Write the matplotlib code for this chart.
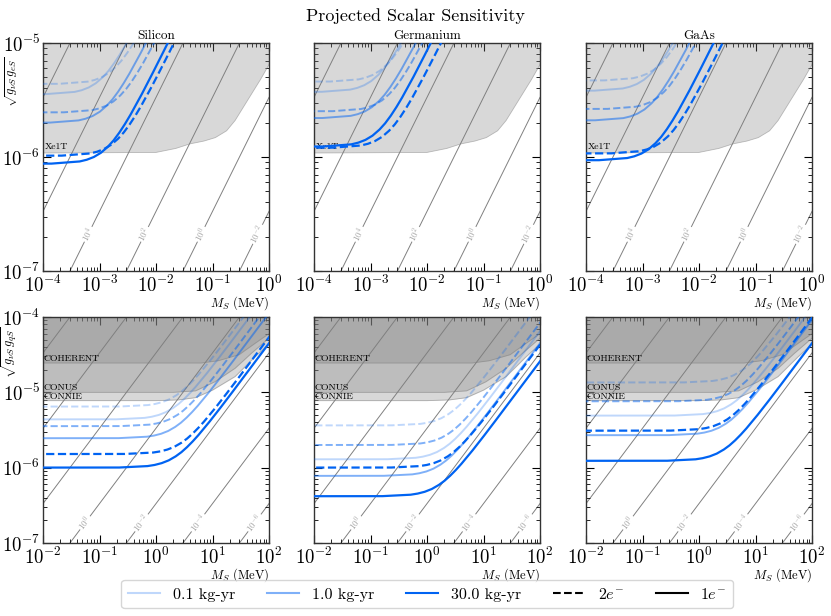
import numpy as np
import matplotlib
matplotlib.use('Agg')
import matplotlib.pyplot as plt
from matplotlib.lines import Line2D
from matplotlib.ticker import LogLocator, NullFormatter

plt.rcParams.update({
    'font.family': 'serif',
    'font.serif': ['cmr10'],
    'mathtext.fontset': 'cm',
    'axes.formatter.use_mathtext': True,
    'axes.unicode_minus': False,
})

# ---------------- data (log10 values) ----------------
materials = ['Silicon', 'Germanium', 'GaAs']
exposures = ['0.1 kg-yr', '1.0 kg-yr', '30.0 kg-yr']
thresholds = ['$2e^{-}$', '$1e^{-}$']

# Top row: electron coupling, M_S in MeV
si_e_1e_01_x = [-6.94, -3.94, -3.44, -3.315, -3.19, -3.065, -2.94, -2.84, -2.74, -2.64, -2.54, -2.34, -2.14, -1.94, -0.44]
si_e_1e_01_y = [-5.45, -5.448, -5.429, -5.414, -5.39, -5.353, -5.299, -5.244, -5.177, -5.101, -5.018, -4.837, -4.645, -4.448, -2.95]
si_e_2e_01_x = [-6.71, -3.71, -3.21, -3.085, -2.96, -2.835, -2.71, -2.61, -2.51, -2.41, -2.31, -2.11, -1.91, -1.71, -0.21]
si_e_2e_01_y = [-5.36, -5.358, -5.339, -5.324, -5.30, -5.263, -5.209, -5.154, -5.087, -5.011, -4.928, -4.747, -4.555, -4.358, -2.86]
si_e_1e_1_x = [-6.87, -3.87, -3.37, -3.245, -3.12, -2.995, -2.87, -2.77, -2.67, -2.57, -2.47, -2.27, -2.07, -1.87, -0.37]
si_e_1e_1_y = [-5.70, -5.698, -5.679, -5.664, -5.64, -5.603, -5.549, -5.494, -5.427, -5.351, -5.268, -5.087, -4.895, -4.698, -3.20]
si_e_2e_1_x = [-6.63, -3.63, -3.13, -3.005, -2.88, -2.755, -2.63, -2.53, -2.43, -2.33, -2.23, -2.03, -1.83, -1.63, -0.13]
si_e_2e_1_y = [-5.61, -5.608, -5.589, -5.574, -5.55, -5.513, -5.459, -5.404, -5.337, -5.261, -5.178, -4.997, -4.805, -4.608, -3.11]
si_e_1e_30_x = [-6.85, -3.85, -3.35, -3.225, -3.10, -2.975, -2.85, -2.75, -2.65, -2.55, -2.45, -2.25, -2.05, -1.85, -0.35]
si_e_1e_30_y = [-6.06, -6.058, -6.039, -6.024, -6.00, -5.963, -5.909, -5.854, -5.787, -5.711, -5.628, -5.447, -5.255, -5.058, -3.56]
si_e_2e_30_x = [-6.67, -3.67, -3.17, -3.045, -2.92, -2.795, -2.67, -2.57, -2.47, -2.37, -2.27, -2.07, -1.87, -1.67, -0.17]
si_e_2e_30_y = [-5.99, -5.988, -5.969, -5.954, -5.93, -5.893, -5.839, -5.784, -5.717, -5.641, -5.558, -5.377, -5.185, -4.988, -3.49]

ge_e_1e_01_x = [-6.86, -3.86, -3.36, -3.235, -3.11, -2.985, -2.86, -2.76, -2.66, -2.56, -2.46, -2.26, -2.06, -1.86, -0.36]
ge_e_1e_01_y = [-5.43, -5.428, -5.409, -5.394, -5.37, -5.333, -5.279, -5.224, -5.157, -5.081, -4.998, -4.817, -4.625, -4.428, -2.93]
ge_e_2e_01_x = [-6.71, -3.71, -3.21, -3.085, -2.96, -2.835, -2.71, -2.61, -2.51, -2.41, -2.31, -2.11, -1.91, -1.71, -0.21]
ge_e_2e_01_y = [-5.34, -5.338, -5.319, -5.304, -5.28, -5.243, -5.189, -5.134, -5.067, -4.991, -4.908, -4.727, -4.535, -4.338, -2.84]
ge_e_1e_1_x = [-6.85, -3.85, -3.35, -3.225, -3.10, -2.975, -2.85, -2.75, -2.65, -2.55, -2.45, -2.25, -2.05, -1.85, -0.35]
ge_e_1e_1_y = [-5.66, -5.658, -5.639, -5.624, -5.60, -5.563, -5.509, -5.454, -5.387, -5.311, -5.228, -5.047, -4.855, -4.658, -3.16]
ge_e_2e_1_x = [-6.67, -3.67, -3.17, -3.045, -2.92, -2.795, -2.67, -2.57, -2.47, -2.37, -2.27, -2.07, -1.87, -1.67, -0.17]
ge_e_2e_1_y = [-5.60, -5.598, -5.579, -5.564, -5.54, -5.503, -5.449, -5.394, -5.327, -5.251, -5.168, -4.987, -4.795, -4.598, -3.10]
ge_e_1e_30_x = [-6.84, -3.84, -3.34, -3.215, -3.09, -2.965, -2.84, -2.74, -2.64, -2.54, -2.44, -2.24, -2.04, -1.84, -0.34]
ge_e_1e_30_y = [-5.91, -5.908, -5.889, -5.874, -5.85, -5.813, -5.759, -5.704, -5.637, -5.561, -5.478, -5.297, -5.105, -4.908, -3.41]
ge_e_2e_30_x = [-6.67, -3.67, -3.17, -3.045, -2.92, -2.795, -2.67, -2.57, -2.47, -2.37, -2.27, -2.07, -1.87, -1.67, -0.17]
ge_e_2e_30_y = [-5.92, -5.918, -5.899, -5.884, -5.86, -5.823, -5.769, -5.714, -5.647, -5.571, -5.488, -5.307, -5.115, -4.918, -3.42]

gaas_e_1e_01_x = [-6.85, -3.85, -3.35, -3.225, -3.10, -2.975, -2.85, -2.75, -2.65, -2.55, -2.45, -2.25, -2.05, -1.85, -0.35]
gaas_e_1e_01_y = [-5.42, -5.418, -5.399, -5.384, -5.36, -5.323, -5.269, -5.214, -5.147, -5.071, -4.988, -4.807, -4.615, -4.418, -2.92]
gaas_e_2e_01_x = [-6.67, -3.67, -3.17, -3.045, -2.92, -2.795, -2.67, -2.57, -2.47, -2.37, -2.27, -2.07, -1.87, -1.67, -0.17]
gaas_e_2e_01_y = [-5.33, -5.328, -5.309, -5.294, -5.27, -5.233, -5.179, -5.124, -5.057, -4.981, -4.898, -4.717, -4.525, -4.328, -2.83]
gaas_e_1e_1_x = [-6.84, -3.84, -3.34, -3.215, -3.09, -2.965, -2.84, -2.74, -2.64, -2.54, -2.44, -2.24, -2.04, -1.84, -0.34]
gaas_e_1e_1_y = [-5.68, -5.678, -5.659, -5.644, -5.62, -5.583, -5.529, -5.474, -5.407, -5.331, -5.248, -5.067, -4.875, -4.678, -3.18]
gaas_e_2e_1_x = [-6.62, -3.62, -3.12, -2.995, -2.87, -2.745, -2.62, -2.52, -2.42, -2.32, -2.22, -2.02, -1.82, -1.62, -0.12]
gaas_e_2e_1_y = [-5.58, -5.578, -5.559, -5.544, -5.52, -5.483, -5.429, -5.374, -5.307, -5.231, -5.148, -4.967, -4.775, -4.578, -3.08]
gaas_e_1e_30_x = [-6.77, -3.77, -3.27, -3.145, -3.02, -2.895, -2.77, -2.67, -2.57, -2.47, -2.37, -2.17, -1.97, -1.77, -0.27]
gaas_e_1e_30_y = [-6.03, -6.028, -6.009, -5.994, -5.97, -5.933, -5.879, -5.824, -5.757, -5.681, -5.598, -5.417, -5.225, -5.028, -3.53]
gaas_e_2e_30_x = [-6.55, -3.55, -3.05, -2.925, -2.80, -2.675, -2.55, -2.45, -2.35, -2.25, -2.15, -1.95, -1.75, -1.55, -0.05]
gaas_e_2e_30_y = [-5.97, -5.968, -5.949, -5.934, -5.91, -5.873, -5.819, -5.764, -5.697, -5.621, -5.538, -5.357, -5.165, -4.968, -3.47]

# Bottom row: quark coupling
si_q_1e_01_x = [-3.70, -0.70, -0.20, -0.075, 0.05, 0.175, 0.30, 0.40, 0.50, 0.60, 0.70, 0.90, 1.10, 1.30, 2.80]
si_q_1e_01_y = [-5.36, -5.358, -5.339, -5.324, -5.30, -5.263, -5.209, -5.154, -5.087, -5.011, -4.928, -4.747, -4.555, -4.358, -2.86]
si_q_2e_01_x = [-3.64, -0.64, -0.14, -0.015, 0.11, 0.235, 0.36, 0.46, 0.56, 0.66, 0.76, 0.96, 1.16, 1.36, 2.86]
si_q_2e_01_y = [-5.19, -5.188, -5.169, -5.154, -5.13, -5.093, -5.039, -4.984, -4.917, -4.841, -4.758, -4.577, -4.385, -4.188, -2.69]
si_q_1e_1_x = [-3.66, -0.66, -0.16, -0.035, 0.09, 0.215, 0.34, 0.44, 0.54, 0.64, 0.74, 0.94, 1.14, 1.34, 2.84]
si_q_1e_1_y = [-5.61, -5.608, -5.589, -5.574, -5.55, -5.513, -5.459, -5.404, -5.337, -5.261, -5.178, -4.997, -4.805, -4.608, -3.11]
si_q_2e_1_x = [-3.62, -0.62, -0.12, 0.005, 0.13, 0.255, 0.38, 0.48, 0.58, 0.68, 0.78, 0.98, 1.18, 1.38, 2.88]
si_q_2e_1_y = [-5.45, -5.448, -5.429, -5.414, -5.39, -5.353, -5.299, -5.244, -5.177, -5.101, -5.018, -4.837, -4.645, -4.448, -2.95]
si_q_1e_30_x = [-3.65, -0.65, -0.15, -0.025, 0.10, 0.225, 0.35, 0.45, 0.55, 0.65, 0.75, 0.95, 1.15, 1.35, 2.85]
si_q_1e_30_y = [-6.00, -5.998, -5.979, -5.964, -5.94, -5.903, -5.849, -5.794, -5.727, -5.651, -5.568, -5.387, -5.195, -4.998, -3.50]
si_q_2e_30_x = [-3.55, -0.55, -0.05, 0.075, 0.20, 0.325, 0.45, 0.55, 0.65, 0.75, 0.85, 1.05, 1.25, 1.45, 2.95]
si_q_2e_30_y = [-5.82, -5.818, -5.799, -5.784, -5.76, -5.723, -5.669, -5.614, -5.547, -5.471, -5.388, -5.207, -5.015, -4.818, -3.32]

ge_q_1e_01_x = [-3.70, -0.70, -0.20, -0.075, 0.05, 0.175, 0.30, 0.40, 0.50, 0.60, 0.70, 0.90, 1.10, 1.30, 2.80]
ge_q_1e_01_y = [-5.89, -5.888, -5.869, -5.854, -5.83, -5.793, -5.739, -5.684, -5.617, -5.541, -5.458, -5.277, -5.085, -4.888, -3.39]
ge_q_2e_01_x = [-3.62, -0.62, -0.12, 0.005, 0.13, 0.255, 0.38, 0.48, 0.58, 0.68, 0.78, 0.98, 1.18, 1.38, 2.88]
ge_q_2e_01_y = [-5.44, -5.438, -5.419, -5.404, -5.38, -5.343, -5.289, -5.234, -5.167, -5.091, -5.008, -4.827, -4.635, -4.438, -2.94]
ge_q_1e_1_x = [-3.76, -0.76, -0.26, -0.135, -0.01, 0.115, 0.24, 0.34, 0.44, 0.54, 0.64, 0.84, 1.04, 1.24, 2.74]
ge_q_1e_1_y = [-6.11, -6.108, -6.089, -6.074, -6.05, -6.013, -5.959, -5.904, -5.837, -5.761, -5.678, -5.497, -5.305, -5.108, -3.61]
ge_q_2e_1_x = [-3.62, -0.62, -0.12, 0.005, 0.13, 0.255, 0.38, 0.48, 0.58, 0.68, 0.78, 0.98, 1.18, 1.38, 2.88]
ge_q_2e_1_y = [-5.70, -5.698, -5.679, -5.664, -5.64, -5.603, -5.549, -5.494, -5.427, -5.351, -5.268, -5.087, -4.895, -4.698, -3.20]
ge_q_1e_30_x = [-3.79, -0.79, -0.29, -0.165, -0.04, 0.085, 0.21, 0.31, 0.41, 0.51, 0.61, 0.81, 1.01, 1.21, 2.71]
ge_q_1e_30_y = [-6.38, -6.378, -6.359, -6.344, -6.32, -6.283, -6.229, -6.174, -6.107, -6.031, -5.948, -5.767, -5.575, -5.378, -3.88]
ge_q_2e_30_x = [-3.63, -0.63, -0.13, -0.005, 0.12, 0.245, 0.37, 0.47, 0.57, 0.67, 0.77, 0.97, 1.17, 1.37, 2.87]
ge_q_2e_30_y = [-6.00, -5.998, -5.979, -5.964, -5.94, -5.903, -5.849, -5.794, -5.727, -5.651, -5.568, -5.387, -5.195, -4.998, -3.50]

gaas_q_1e_01_x = [-3.43, -0.43, 0.07, 0.195, 0.32, 0.445, 0.57, 0.67, 0.77, 0.87, 0.97, 1.17, 1.37, 1.57, 3.07]
gaas_q_1e_01_y = [-5.31, -5.308, -5.289, -5.274, -5.25, -5.213, -5.159, -5.104, -5.037, -4.961, -4.878, -4.697, -4.505, -4.308, -2.81]
gaas_q_2e_01_x = [-3.26, -0.26, 0.24, 0.365, 0.49, 0.615, 0.74, 0.84, 0.94, 1.04, 1.14, 1.34, 1.54, 1.74, 3.24]
gaas_q_2e_01_y = [-4.87, -4.868, -4.849, -4.834, -4.81, -4.773, -4.719, -4.664, -4.597, -4.521, -4.438, -4.257, -4.065, -3.868, -2.37]
gaas_q_1e_1_x = [-3.53, -0.53, -0.03, 0.095, 0.22, 0.345, 0.47, 0.57, 0.67, 0.77, 0.87, 1.07, 1.27, 1.47, 2.97]
gaas_q_1e_1_y = [-5.57, -5.568, -5.549, -5.534, -5.51, -5.473, -5.419, -5.364, -5.297, -5.221, -5.138, -4.957, -4.765, -4.568, -3.07]
gaas_q_2e_1_x = [-3.36, -0.36, 0.14, 0.265, 0.39, 0.515, 0.64, 0.74, 0.84, 0.94, 1.04, 1.24, 1.44, 1.64, 3.14]
gaas_q_2e_1_y = [-5.12, -5.118, -5.099, -5.084, -5.06, -5.023, -4.969, -4.914, -4.847, -4.771, -4.688, -4.507, -4.315, -4.118, -2.62]
gaas_q_1e_30_x = [-3.56, -0.56, -0.06, 0.065, 0.19, 0.315, 0.44, 0.54, 0.64, 0.74, 0.84, 1.04, 1.24, 1.44, 2.94]
gaas_q_1e_30_y = [-5.91, -5.908, -5.889, -5.874, -5.85, -5.813, -5.759, -5.704, -5.637, -5.561, -5.478, -5.297, -5.105, -4.908, -3.41]
gaas_q_2e_30_x = [-3.50, -0.50, 0.00, 0.125, 0.25, 0.375, 0.50, 0.60, 0.70, 0.80, 0.90, 1.10, 1.30, 1.50, 3.00]
gaas_q_2e_30_y = [-5.51, -5.508, -5.489, -5.474, -5.45, -5.413, -5.359, -5.304, -5.237, -5.161, -5.078, -4.897, -4.705, -4.508, -3.01]

# Existing limits (lower edges of excluded regions)
xe1t_logx = [-4.0, -2.0, -1.65, -1.4, -1.15, -0.95, -0.75, -0.6, -0.45, -0.3, -0.15, 0.0]
xe1t_logy = [-5.965, -5.96, -5.925, -5.885, -5.86, -5.83, -5.77, -5.68, -5.56, -5.44, -5.32, -5.19]
coherent_logx = [-2.0, 0.8, 1.1, 1.47, 1.77, 2.0]
coherent_logy = [-4.61, -4.61, -4.58, -4.50, -4.34, -4.22]
conus_logx = [-2.0, 0.3, 0.7, 1.04, 1.4, 1.69, 2.0]
conus_logy = [-5.00, -5.00, -4.98, -4.86, -4.68, -4.48, -4.28]
connie_logx = [-2.0, 0.0, 0.4, 0.7, 1.0, 1.4, 1.75, 2.0]
connie_logy = [-5.11, -5.11, -5.10, -5.07, -4.97, -4.79, -4.53, -4.36]

# Iso-lines Q = Q_SCALE * (g / M_S)^2 (log10 levels)
Q_SCALE = 9e10
top_levels = [-2, 0, 2, 4, 6, 8]
top_label_levels = [-2, 0, 2, 4]
bot_levels = [-6, -4, -2, 0, 2, 4, 6]
bot_label_levels = [-6, -4, -2, 0]

top_xlim = (1e-4, 1e0); top_ylim = (1e-7, 1e-5)
bot_xlim = (1e-2, 1e2); bot_ylim = (1e-7, 1e-4)


def curve_set(prefix):
    g = globals()
    out = []
    for k, tag in enumerate(['01', '1', '30']):
        for thr in ['2e', '1e']:
            out.append((g[f'{prefix}_{thr}_{tag}_x'], g[f'{prefix}_{thr}_{tag}_y'], k, thr))
    return out


BLUE = '#0063f2'
ALPHAS = [0.25, 0.5, 1.0]
LS = {'2e': '--', '1e': '-'}
GRAY = '#808080'

fig = plt.figure(figsize=(8.31, 6.16), dpi=100)
W, H = 831.0, 616.0
col_left = [43 / W, 314 / W, 586 / W]
aw = 226 / W
rows = [((H - 271) / H, 228 / H), ((H - 543) / H, 226 / H)]


def style_axes(ax, show_ylabels):
    ax.xaxis.set_major_locator(LogLocator(base=10, numticks=10))
    ax.yaxis.set_major_locator(LogLocator(base=10, numticks=10))
    ax.xaxis.set_minor_locator(LogLocator(base=10, subs=np.arange(2, 10), numticks=100))
    ax.yaxis.set_minor_locator(LogLocator(base=10, subs=np.arange(2, 10), numticks=100))
    ax.xaxis.set_minor_formatter(NullFormatter())
    ax.yaxis.set_minor_formatter(NullFormatter())
    ax.tick_params(which='both', direction='in', top=True, right=True, labelsize=13.5)
    ax.tick_params(which='major', length=6, width=0.8)
    ax.tick_params(which='minor', length=3, width=0.6)
    ax.tick_params(axis='y', pad=2)
    ax.tick_params(axis='x', pad=3)
    if not show_ylabels:
        ax.tick_params(axis='y', labelleft=False)
    for sp in ax.spines.values():
        sp.set_linewidth(1.0)
        sp.set_color('#333333')


def draw_isolines(ax, xlim, levels, label_levels, label_y):
    xs = np.array(xlim)
    for v in levels:
        c = np.sqrt(10.0 ** v / Q_SCALE)
        ax.plot(xs, c * xs, color=GRAY, lw=0.7, zorder=1)
        if v in label_levels:
            xl = label_y / c
            p1 = ax.transData.transform((xl, label_y))
            p2 = ax.transData.transform((xl * 10, label_y * 10))
            ang = np.degrees(np.arctan2(p2[1] - p1[1], p2[0] - p1[0]))
            ax.text(xl, label_y, r'$10^{%d}$' % v, rotation=ang, rotation_mode='anchor',
                    ha='center', va='center', fontsize=6.5, color='#a0a0a0', zorder=1.5,
                    bbox=dict(fc='white', ec='none', pad=0.8))


def draw_region(ax, lx, ly):
    x = 10 ** np.array(lx)
    y = 10 ** np.array(ly)
    ax.fill_between(x, y, 1.0, color='gray', alpha=0.3, lw=0, zorder=2)
    ax.plot(x, y, color='gray', lw=0.6, alpha=0.5, zorder=2)


prefixes_top = ['si_e', 'ge_e', 'gaas_e']
prefixes_bot = ['si_q', 'ge_q', 'gaas_q']

for r in range(2):
    for c in range(3):
        b, h = rows[r]
        ax = fig.add_axes([col_left[c], b, aw, h])
        ax.set_xscale('log')
        ax.set_yscale('log')
        if r == 0:
            xlim, ylim = top_xlim, top_ylim
        else:
            xlim, ylim = bot_xlim, bot_ylim
        ax.set_xlim(*xlim)
        ax.set_ylim(*ylim)
        if r == 0:
            draw_isolines(ax, xlim, top_levels, top_label_levels, 2.1e-7)
            draw_region(ax, xe1t_logx, xe1t_logy)
            ax.text(1.07e-4, 10 ** -5.95, 'Xe1T', fontsize=7, va='bottom', ha='left', zorder=3)
            curves = curve_set(prefixes_top[c])
            ax.set_title(materials[c], fontsize=9.5, pad=3)
        else:
            draw_isolines(ax, xlim, bot_levels, bot_label_levels, 1.85e-7)
            draw_region(ax, coherent_logx, coherent_logy)
            draw_region(ax, conus_logx, conus_logy)
            draw_region(ax, connie_logx, connie_logy)
            ax.text(1.03e-2, 10 ** -4.61, 'COHERENT', fontsize=7, va='bottom', ha='left', zorder=3)
            ax.text(1.03e-2, 10 ** -5.0, 'CONUS', fontsize=7, va='bottom', ha='left', zorder=3)
            ax.text(1.03e-2, 10 ** -5.115, 'CONNIE', fontsize=7, va='bottom', ha='left', zorder=3)
            curves = curve_set(prefixes_bot[c])
        for lx, ly, k, thr in curves:
            ax.plot(10 ** np.array(lx), 10 ** np.array(ly), color=BLUE, alpha=ALPHAS[k],
                    ls=LS[thr], lw=1.6 if k == 2 else 1.4, zorder=4)
        ax.set_xlim(*xlim)
        ax.set_ylim(*ylim)
        style_axes(ax, c == 0)
        ax.set_xlabel('$M_S$ (MeV)', loc='right', fontsize=9, labelpad=-1.5)
        if c == 0:
            lab = r'$\sqrt{g_{\nu S}\, g_{eS}}$' if r == 0 else r'$\sqrt{g_{\nu S}\, g_{qS}}$'
            ax.set_ylabel(lab, loc='top', fontsize=9)
            ax.yaxis.set_label_coords(-0.1, 0.94 if r == 0 else 0.955)

fig.suptitle('Projected Scalar Sensitivity', x=0.5, y=0.974, va='center', fontsize=13)

handles = [Line2D([], [], color=BLUE, alpha=a, lw=1.5) for a in ALPHAS]
handles += [Line2D([], [], color='k', ls='--', lw=1.5), Line2D([], [], color='k', ls='-', lw=1.5)]
labels = exposures + thresholds
fig.legend(handles, labels, loc='lower center', bbox_to_anchor=(0.514, 0.0), ncol=5, fontsize=11.5)

fig.savefig('out.png', dpi=100)
